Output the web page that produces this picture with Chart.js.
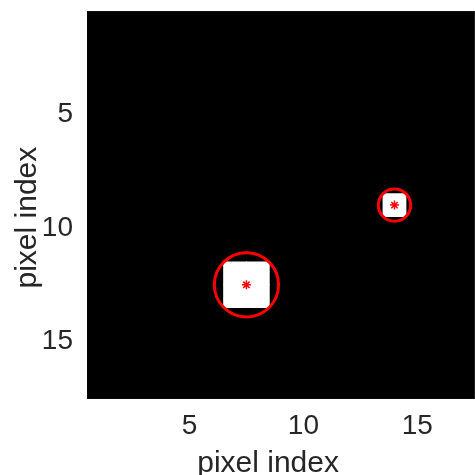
<!DOCTYPE html>
<html>
<head>
<meta charset="utf-8">
<script src="https://cdn.jsdelivr.net/npm/chart.js@4.4.1/dist/chart.umd.min.js"></script>
<style>
  html, body { margin: 0; padding: 0; background: #ffffff; overflow: hidden; }
  canvas { display: block; }
</style>
</head>
<body>
<canvas id="blobChart" width="475" height="475"></canvas>
<script>
// image is 17 x 17 pixels, zero everywhere except the bright ones
var imageSize = 17;
var brightPixelX = [7, 8, 7, 8, 14];
var brightPixelY = [12, 12, 13, 13, 9];

// detected blobs: centre and radius (in pixels)
var blobCenterX = [7.5, 14];
var blobCenterY = [12.5, 9];
var blobRadius = [1.41, 0.71];

var tickValues = [5, 10, 15];
var axisTitle = 'pixel index';

var textColor = '#262626';
var fontFamily = '"Liberation Sans", Helvetica, Arial, sans-serif';

// build the point lists the library needs
var brightCells = [];
for (var i = 0; i < brightPixelX.length; i++) {
	brightCells.push({x: brightPixelX[i], y: brightPixelY[i]});
}
var blobCircles = [];
var blobCentres = [];
for (var j = 0; j < blobCenterX.length; j++) {
	blobCircles.push({x: blobCenterX[j], y: blobCenterY[j], r: blobRadius[j]});
	blobCentres.push({x: blobCenterX[j], y: blobCenterY[j]});
}

function pxPerUnit(chart) {
	var xs = chart.scales.x;
	return Math.abs(xs.getPixelForValue(1) - xs.getPixelForValue(0));
}

// 'rect' point style draws a square of side sqrt(2) * radius
function cellRadius(ctx) {
	return (pxPerUnit(ctx.chart) + 1) / Math.SQRT2;
}

function circleRadius(ctx) {
	if (!ctx.raw) return 0;
	return ctx.raw.r * pxPerUnit(ctx.chart);
}

function setTicks(scale) {
	scale.ticks = tickValues.map(function (v) { return {value: v}; });
}

// fixed box sizes, no extra label padding, so the axes sit like the original
function fixBox(w, h) {
	return function (scale) {
		if (w !== null) scale.width = w;
		if (h !== null) scale.height = h;
		scale.paddingTop = 0;
		scale.paddingBottom = 0;
		scale.paddingLeft = 0;
		scale.paddingRight = 0;
	};
}

// the dark (zero) pixels of the image: the whole image extent, through the scales
var imageBackground = {
	id: 'imageBackground',
	beforeDatasetsDraw: function (chart) {
		var xs = chart.scales.x, ys = chart.scales.y;
		var x0 = xs.getPixelForValue(0.5), x1 = xs.getPixelForValue(imageSize + 0.5);
		var y0 = ys.getPixelForValue(0.5), y1 = ys.getPixelForValue(imageSize + 0.5);
		var c = chart.ctx;
		c.save();
		c.fillStyle = '#000000';
		c.fillRect(Math.min(x0, x1), Math.min(y0, y1), Math.abs(x1 - x0), Math.abs(y1 - y0));
		c.restore();
	}
};

var gridOpts = {
	display: true,
	drawOnChartArea: false,
	drawTicks: true,
	tickLength: -4,
	color: '#3a3a3a',
	lineWidth: 1
};
var borderOpts = {display: true, color: textColor, width: 1};

var ctx = document.getElementById('blobChart').getContext('2d');
var chart = new Chart(ctx, {
	type: 'scatter',
	data: {
		datasets: [
			{
				label: 'blob centres',
				data: blobCentres,
				pointStyle: 'star',
				pointRadius: 4.5,
				pointBorderWidth: 1.5,
				pointBorderColor: '#ff0000',
				pointBackgroundColor: '#ff0000'
			},
			{
				label: 'blob circles',
				data: blobCircles,
				pointStyle: 'circle',
				pointRadius: circleRadius,
				pointBorderWidth: 3,
				pointBorderColor: '#ff0000',
				pointBackgroundColor: 'rgba(0,0,0,0)'
			},
			{
				label: 'bright pixels',
				data: brightCells,
				pointStyle: 'rect',
				pointRadius: cellRadius,
				pointBorderWidth: 0,
				pointBackgroundColor: '#ffffff'
			}
		]
	},
	plugins: [imageBackground],
	options: {
		responsive: false,
		animation: false,
		events: [],
		layout: {padding: 0, autoPadding: false},
		plugins: {
			legend: {display: false},
			tooltip: {enabled: false}
		},
		scales: {
			x: {
				type: 'linear',
				position: 'bottom',
				min: 0.5,
				max: 17.5,
				z: 1,
				afterBuildTicks: setTicks,
				afterFit: fixBox(null, 76.3),
				grid: gridOpts,
				border: borderOpts,
				ticks: {
					color: textColor,
					padding: 15.2,
					maxRotation: 0,
					font: {family: fontFamily, size: 28, lineHeight: 1.2}
				},
				title: {
					display: true,
					text: axisTitle + '   ',
					color: textColor,
					padding: {top: 0, bottom: -3.6},
					font: {family: fontFamily, size: 30, lineHeight: 1}
				}
			},
			y: {
				type: 'linear',
				position: 'left',
				reverse: true,
				min: 0.5,
				max: 17.5,
				z: 1,
				afterBuildTicks: setTicks,
				afterFit: fixBox(87, null),
				grid: gridOpts,
				border: borderOpts,
				ticks: {
					color: textColor,
					padding: 18,
					font: {family: fontFamily, size: 28, lineHeight: 1.2}
				},
				title: {
					display: true,
					text: axisTitle + '   ',
					color: textColor,
					padding: {top: 12.6, bottom: 0},
					font: {family: fontFamily, size: 30, lineHeight: 1}
				}
			},
			xTop: {
				type: 'linear',
				position: 'top',
				min: 0.5,
				max: 17.5,
				z: 1,
				afterBuildTicks: setTicks,
				afterFit: fixBox(null, 11.5),
				grid: gridOpts,
				border: borderOpts,
				ticks: {display: false}
			},
			yRight: {
				type: 'linear',
				position: 'right',
				reverse: true,
				min: 0.5,
				max: 17.5,
				z: 1,
				afterBuildTicks: setTicks,
				afterFit: fixBox(0.8, null),
				grid: gridOpts,
				border: borderOpts,
				ticks: {display: false}
			}
		}
	}
});
</script>
</body>
</html>
